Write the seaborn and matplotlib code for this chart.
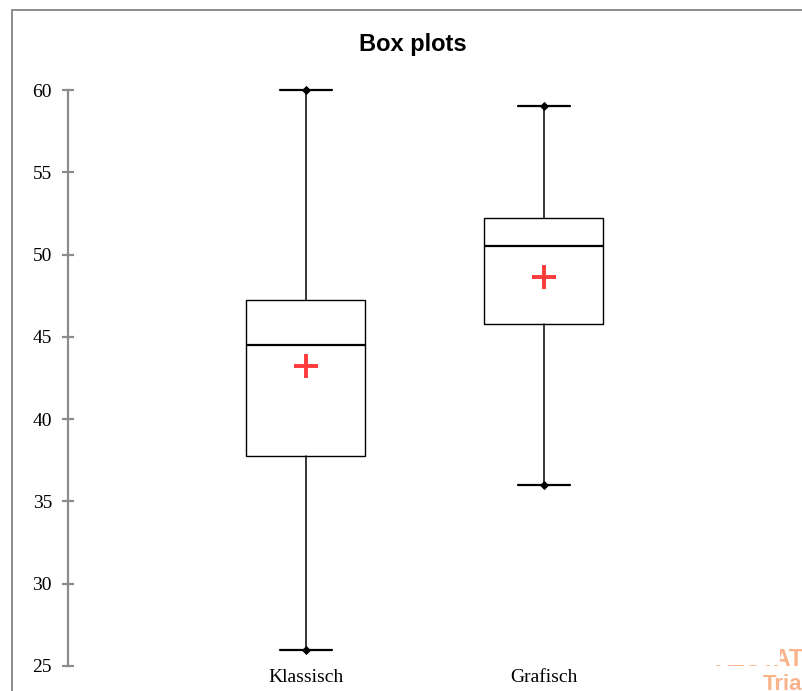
import numpy as np
import matplotlib
matplotlib.use("Agg")
import matplotlib.pyplot as plt
from matplotlib.patches import Rectangle
from matplotlib.lines import Line2D
import seaborn as sns

# Summary statistics per method
categories = ["Klassisch", "Grafisch"]
minimum = [26.0, 36.0]
q1 = [37.75, 45.8]
median = [44.5, 50.5]
q3 = [47.25, 52.25]
maximum = [60.0, 59.0]
means = [43.2, 48.65]
y_ticks = [25, 30, 35, 40, 45, 50, 55, 60]

sns.set_style("white")
plt.rcParams["font.family"] = ["Liberation Serif", "DejaVu Serif"]
plt.rcParams["text.color"] = "black"
plt.rcParams["xtick.color"] = "black"
plt.rcParams["ytick.color"] = "black"

fig = plt.figure(figsize=(8.03, 6.91), dpi=100)
ax = fig.add_axes([68 / 803, 25 / 691, (782 - 68) / 803, (666 - 90) / 691])

positions = np.arange(len(categories))
stats = [
    dict(label=c, whislo=lo, q1=a, med=m, q3=b, whishi=hi, fliers=[])
    for c, lo, a, m, b, hi in zip(categories, minimum, q1, median, q3, maximum)
]
art = ax.bxp(
    stats,
    positions=positions,
    widths=0.5,
    capwidths=0.22,
    showfliers=False,
    patch_artist=True,
    boxprops=dict(facecolor="white", edgecolor="black", linewidth=1.0),
    medianprops=dict(color="black", linewidth=1.6),
    whiskerprops=dict(color="black", linewidth=1.1),
    capprops=dict(color="black", linewidth=1.6),
    zorder=2,
)
for group in art.values():
    for a in group:
        a.set_clip_on(False)

# Extreme values marked on the whisker caps
ext_x = list(positions) * 2
ext_y = minimum + maximum
pts = sns.scatterplot(x=ext_x, y=ext_y, marker="D", s=22, color="black",
                      edgecolor="black", linewidth=0, ax=ax, zorder=4)
for coll in ax.collections:
    coll.set_clip_on(False)

# Means
sns.scatterplot(x=list(positions), y=means, marker="+", s=280, color="#ff3a3a",
                linewidth=2.8, ax=ax, zorder=5)

ax.set_xlim(-1, 2)
ax.set_ylim(25, 60)
ax.set_yticks(y_ticks)
ax.set_yticklabels([str(t) for t in y_ticks], fontsize=14)
ax.set_xticks(positions)
ax.set_xticklabels(categories, fontsize=14)
ax.tick_params(axis="x", bottom=False, length=0, pad=2)
ax.tick_params(axis="y", left=True, direction="inout", length=9, width=1.6,
               color="#8c8c8c", labelcolor="black", pad=7)
for side in ["top", "right", "bottom"]:
    ax.spines[side].set_visible(False)
ax.spines["left"].set_color("#8c8c8c")
ax.spines["left"].set_linewidth(1.6)
ax.set_xlabel("")
ax.set_ylabel("")
ax.grid(False)

fig.text(413 / 803, 1 - 44 / 691, "Box plots", ha="center", va="center",
         fontsize=17, fontweight="bold", color="black",
         family=["Liberation Sans", "DejaVu Sans"])

# Outer border of the chart area
fig.add_artist(Line2D([12 / 803, 12 / 803], [0, 1 - 9.5 / 691],
                      transform=fig.transFigure, color="#8c8c8c", lw=1.4))
fig.add_artist(Line2D([12 / 803, 1], [1 - 9.5 / 691, 1 - 9.5 / 691],
                      transform=fig.transFigure, color="#8c8c8c", lw=1.4))

# Trial watermark in the corner
fig.text(804 / 803, 1 - 659 / 691, "XLSTAT", ha="right", va="center",
         fontsize=17, fontweight="bold", color="#f9b48c",
         family=["Liberation Sans", "DejaVu Sans"])
fig.add_artist(Rectangle((680 / 803, 1 - 665 / 691), 100 / 803, 30 / 691,
                         transform=fig.transFigure, facecolor="white",
                         edgecolor="none", zorder=10))
fig.text(763 / 803, 1 - 684 / 691, "Trial", ha="left", va="center",
         fontsize=16, fontweight="bold", color="#f9b48c",
         family=["Liberation Sans", "DejaVu Sans"])

fig.savefig("out.png", dpi=100, facecolor="white")
